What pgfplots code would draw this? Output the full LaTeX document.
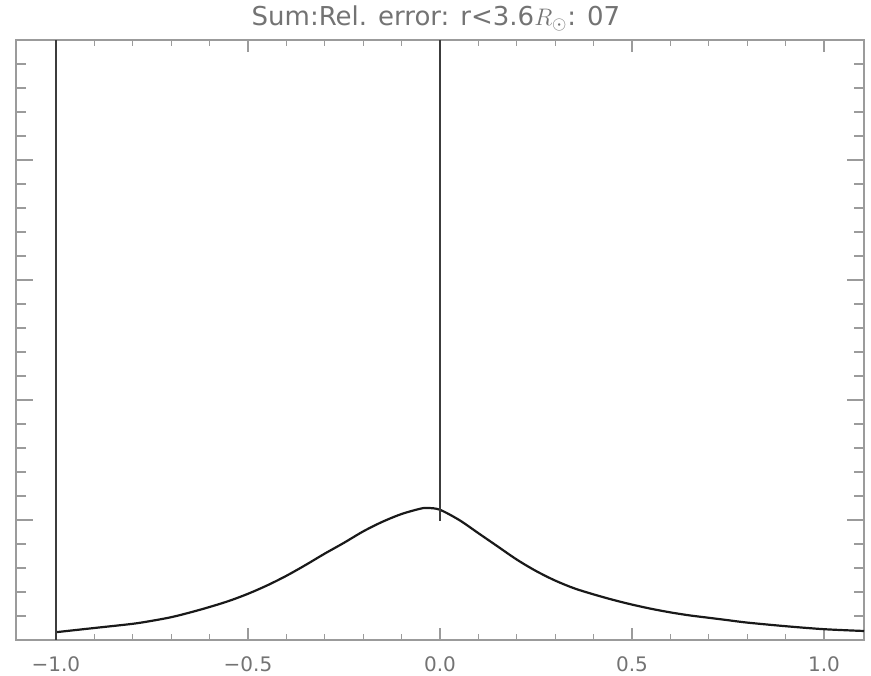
\documentclass[border=0pt]{standalone}
\usepackage{pgfplots}
\pgfplotsset{compat=1.18}
\usepackage{fontspec}
\setmainfont{DejaVu Sans}
\definecolor{txtgray}{RGB}{115,115,115}
\definecolor{axgray}{RGB}{155,155,155}
\definecolor{curve}{RGB}{25,25,25}
\definecolor{vline}{RGB}{60,60,60}

\pgfplotsset{
  frame/.style={
    scale only axis,
    width=424bp, height=300bp,
    xmin=-1.104, xmax=1.104,
    ymin=0, ymax=1,
    axis line style={axgray, line width=0.6bp},
    every tick/.style={axgray, line width=0.6bp},
    tick align=inside,
  }
}

\begin{document}
\begin{tikzpicture}
% y ticks (longer, as on the vertical sides)
\begin{axis}[
  frame,
  xtick=\empty,
  ytick={0,0.2,0.4,0.6,0.8,1},
  yticklabels={},
  minor y tick num=4,
  major tick length=8.5bp, minor tick length=5bp,
]
\end{axis}
% x ticks, labels and data
\begin{axis}[
  frame,
  xtick={-1,-0.5,0,0.5,1},
  xticklabels={−1.0,−0.5,0.0,0.5,1.0},
  minor x tick num=4,
  ytick=\empty,
  major tick length=6bp, minor tick length=3bp,
  xticklabel style={font=\fontsize{10bp}{12bp}\selectfont, text=txtgray, anchor=base, yshift=-16bp},
  clip=true,
]
% summed relative error profile
\addplot[curve, line width=1.1bp, smooth] coordinates {
  (-1.0,0.013) (-0.9,0.020) (-0.8,0.027) (-0.75,0.032) (-0.7,0.038)
  (-0.65,0.046) (-0.6,0.055) (-0.55,0.065) (-0.5,0.077) (-0.45,0.091)
  (-0.4,0.107) (-0.35,0.125) (-0.3,0.144) (-0.25,0.162) (-0.2,0.181)
  (-0.15,0.197) (-0.1,0.210) (-0.05,0.219) (-0.03,0.220) (0.0,0.217)
  (0.05,0.200) (0.1,0.178) (0.15,0.156) (0.2,0.134) (0.25,0.115)
  (0.3,0.099) (0.35,0.086) (0.4,0.076) (0.45,0.067) (0.5,0.059)
  (0.55,0.052) (0.6,0.046) (0.65,0.041) (0.7,0.037) (0.75,0.033)
  (0.8,0.029) (0.9,0.023) (1.0,0.018) (1.104,0.015)
};
% reference markers
\addplot[vline, line width=0.7bp] coordinates {(-1,0) (-1,1)};
\addplot[vline, line width=0.7bp] coordinates {(0,0.199) (0,1)};
\end{axis}
\node[font=\fontsize{13bp}{15bp}\selectfont, text=txtgray, anchor=base, yshift=7bp, xshift=-2bp]
  at (current axis.north) {Sum:Rel. error: r<3.6$R_{\odot}$: 07};
\pgfresetboundingbox
\useasboundingbox ([shift={(-8bp,-18bp)}]current axis.south west) rectangle ([shift={(3.5bp,20bp)}]current axis.north east);
\end{tikzpicture}
\end{document}
